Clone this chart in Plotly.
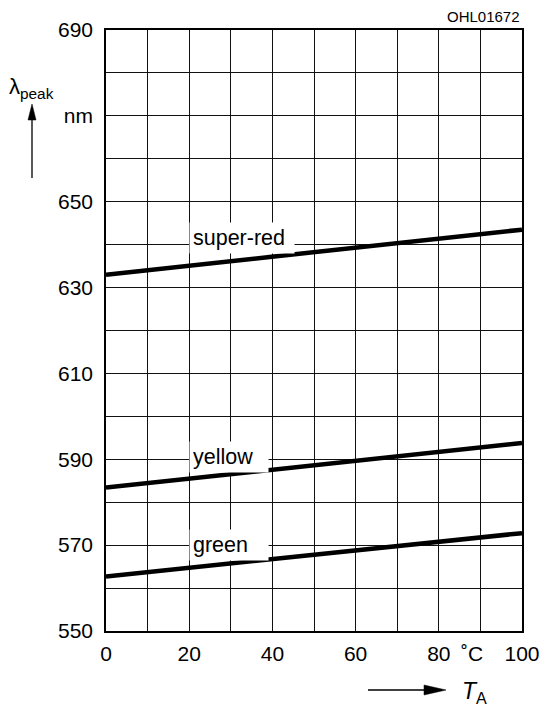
import plotly.graph_objects as go

# Peak wavelength vs. ambient temperature
temps = [0, 100]
super_red = [633.0, 643.5]
yellow = [583.4, 593.8]
green = [562.7, 572.8]

series_names = ["super-red", "yellow", "green"]
series_values = [super_red, yellow, green]
label_y = [641.5, 590.6, 570.0]

x_tickvals = [0, 20, 40, 60, 80, 100]
x_ticktext = ["0", "20", "40", "60", "80", "100"]
y_tickvals = [550, 570, 590, 610, 630, 650, 670, 690]
y_ticktext = ["550", "570", "590", "610", "630", "650", "nm", "690"]

FONT = "Liberation Sans, Arial, Helvetica"

W, H = 540, 713
L, R, T, B = 106, 18, 30, 82
PW, PH = W - L - R, H - T - B


def px(x):
    return (x - L) / PW


def py(y):
    return (H - B - y) / PH


fig = go.Figure()
for name, vals in zip(series_names, series_values):
    fig.add_trace(go.Scatter(x=temps, y=vals, mode="lines", name=name,
                             line=dict(color="black", width=4.5),
                             showlegend=False, hoverinfo="skip"))

tick_font = dict(family=FONT, size=21, color="black")
fig.update_xaxes(range=[0, 100], tickvals=x_tickvals, ticktext=x_ticktext,
                 showgrid=True, gridcolor="#111", gridwidth=1.3,
                 minor=dict(dtick=10, tick0=0, showgrid=True,
                            gridcolor="#111", gridwidth=1.3),
                 showline=True, linecolor="black", linewidth=1.6, mirror=True,
                 ticks="", ticklabelstandoff=3, ticklabeloverflow="allow",
                 automargin=False, zeroline=False, tickfont=tick_font)
fig.update_yaxes(range=[550, 690], tickvals=y_tickvals, ticktext=y_ticktext,
                 showgrid=True, gridcolor="#111", gridwidth=1.3,
                 minor=dict(dtick=10, tick0=550, showgrid=True,
                            gridcolor="#111", gridwidth=1.3),
                 showline=True, linecolor="black", linewidth=1.6, mirror=True,
                 ticks="", ticklabelstandoff=7, ticklabeloverflow="allow",
                 automargin=False, zeroline=False, tickfont=tick_font)

label_widths = [98, 72, 72]
annotations = []
for name, yv, wd in zip(series_names, label_y, label_widths):
    annotations.append(dict(x=20, y=yv, xref="x", yref="y", text=name,
                            showarrow=False, xanchor="left", yanchor="middle",
                            align="left", width=wd, bgcolor="white",
                            borderpad=3,
                            font=dict(family=FONT, size=21.5, color="black")))

annotations += [
    dict(x=88, y=py(653), xref="x", yref="paper", text="˚C", showarrow=False,
         xanchor="center", yanchor="middle",
         font=dict(family=FONT, size=21, color="black")),
    dict(x=px(522), y=py(16), xref="paper", yref="paper", text="OHL01672",
         showarrow=False, xanchor="right", yanchor="middle",
         font=dict(family=FONT, size=15, color="black")),
    dict(x=px(7), y=py(88), xref="paper", yref="paper",
         text="λ<sub>peak</sub>", showarrow=False, xanchor="left",
         yanchor="middle", font=dict(family=FONT, size=22, color="black")),
    dict(x=px(460), y=py(692), xref="paper", yref="paper",
         text="<i>T</i><sub>A</sub>", showarrow=False, xanchor="left",
         yanchor="middle", font=dict(family=FONT, size=23, color="black")),
]

shapes = [
    # vertical arrow beside the y-axis title
    dict(type="line", xref="paper", yref="paper", x0=px(32), x1=px(32),
         y0=py(178), y1=py(118), line=dict(color="black", width=1.3)),
    dict(type="path", xref="paper", yref="paper",
         path=f"M {px(32)},{py(104)} L {px(28)},{py(120)} L {px(36)},{py(120)} Z",
         fillcolor="black", line=dict(color="black", width=0.5)),
    # horizontal arrow beside the x-axis title
    dict(type="line", xref="paper", yref="paper", x0=px(368), x1=px(428),
         y0=py(690), y1=py(690), line=dict(color="black", width=1.3)),
    dict(type="path", xref="paper", yref="paper",
         path=f"M {px(446)},{py(690)} L {px(424)},{py(685)} L {px(424)},{py(695)} Z",
         fillcolor="black", line=dict(color="black", width=0.5)),
]

fig.update_layout(width=W, height=H, margin=dict(l=L, r=R, t=T, b=B),
                  plot_bgcolor="white", paper_bgcolor="white",
                  annotations=annotations, shapes=shapes)

fig.write_html("out.html")
